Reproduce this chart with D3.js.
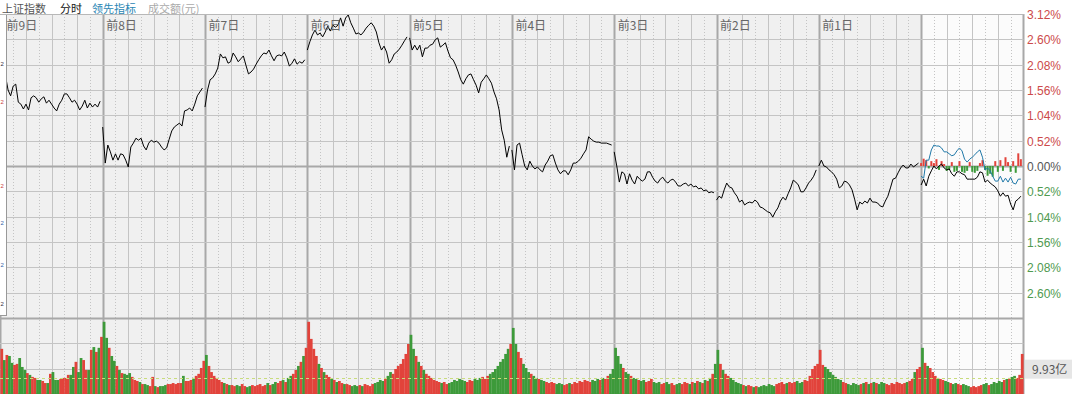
<!DOCTYPE html>
<html>
<head>
<meta charset="utf-8">
<title>上证指数 分时</title>
<script src="https://d3js.org/d3.v7.min.js"></script>
<style>
  body { margin: 0; background: #fff; overflow: hidden; }
  svg { display: block; font-family: "Liberation Sans", Arial, sans-serif; }
  .cjk { font-family: "Noto Sans CJK SC", sans-serif; }
</style>
</head>
<body>
<div id="chart"></div>
<script>
// day labels, oldest first; the last day is today (no label)
var dayLabels = ["前9日", "前8日", "前7日", "前6日", "前5日", "前4日", "前3日", "前2日", "前1日", ""];

// price change in %, 40 samples per day
var price_d9 = [1.81,1.77,1.85,1.56,1.44,1.64,1.68,1.31,1.27,1.17,1.27,1.15,1.40,1.44,1.40,1.31,1.38,1.42,1.29,1.35,1.27,1.19,1.13,1.27,1.35,1.48,1.48,1.40,1.31,1.35,1.27,1.15,1.23,1.35,1.19,1.29,1.21,1.27,1.21,1.33];
var price_d8 = [0.80,0.06,0.43,0.29,0.12,0.25,0.12,0.25,0.23,0.12,-0.02,0.39,0.47,0.57,0.53,0.57,0.41,0.33,0.47,0.53,0.49,0.51,0.47,0.39,0.33,0.37,0.55,0.72,0.80,0.84,0.88,0.82,1.13,1.15,1.19,1.13,1.27,1.44,1.52,1.60];
var price_d7 = [1.21,1.56,1.77,1.81,1.89,2.01,2.30,2.22,2.24,2.11,2.14,2.32,2.24,2.14,2.20,2.26,2.07,1.89,1.93,1.99,2.09,2.18,2.26,2.32,2.30,2.38,2.26,2.16,2.26,2.28,2.26,2.34,2.22,2.05,2.11,2.20,2.09,2.14,2.11,2.18];
var price_d6 = [2.38,2.55,2.69,2.79,2.69,2.73,2.65,2.75,2.87,2.77,2.89,2.85,2.89,3.04,2.87,3.04,3.10,2.94,2.83,2.71,2.73,2.69,2.75,2.83,2.89,2.94,2.87,2.75,2.53,2.38,2.46,2.34,2.11,2.18,2.30,2.34,2.40,2.48,2.57,2.65];
var price_d5 = [2.63,2.38,2.48,2.38,2.48,2.24,2.42,2.42,2.48,2.50,2.59,2.63,2.44,2.48,2.53,2.36,2.22,2.18,2.07,1.93,1.77,1.68,1.79,1.87,1.89,1.77,1.66,1.50,1.72,1.79,1.87,1.79,1.70,1.52,1.38,1.15,0.74,0.53,0.18,0.41];
var price_d4 = [0.33,-0.08,0.43,0.47,0.23,0.00,-0.08,0.10,0.00,-0.06,-0.02,-0.08,-0.12,0.02,0.10,0.21,0.23,0.06,-0.08,-0.16,-0.10,-0.10,-0.18,-0.08,0.06,0.06,0.10,0.16,0.25,0.33,0.60,0.55,0.51,0.49,0.49,0.47,0.47,0.47,0.45,0.43];
var price_d3 = [0.29,0.00,-0.33,-0.12,-0.16,-0.37,-0.16,-0.29,-0.37,-0.21,-0.27,-0.31,-0.27,-0.12,-0.12,-0.23,-0.31,-0.35,-0.27,-0.23,-0.31,-0.35,-0.29,-0.27,-0.33,-0.41,-0.41,-0.37,-0.35,-0.41,-0.37,-0.43,-0.41,-0.47,-0.45,-0.51,-0.49,-0.55,-0.53,-0.55];
var price_d2 = [-0.70,-0.62,-0.66,-0.49,-0.35,-0.43,-0.45,-0.55,-0.62,-0.74,-0.70,-0.80,-0.76,-0.74,-0.76,-0.70,-0.74,-0.84,-0.86,-0.90,-0.94,-0.96,-1.05,-0.94,-0.86,-0.72,-0.64,-0.70,-0.57,-0.45,-0.29,-0.33,-0.39,-0.53,-0.53,-0.45,-0.35,-0.29,-0.21,-0.08];
var price_d1 = [0.00,0.12,0.00,-0.02,-0.08,-0.12,-0.18,-0.27,-0.45,-0.41,-0.31,-0.33,-0.39,-0.49,-0.68,-0.90,-0.74,-0.78,-0.72,-0.76,-0.66,-0.74,-0.74,-0.76,-0.82,-0.84,-0.72,-0.62,-0.45,-0.27,-0.25,-0.14,-0.04,0.02,-0.04,-0.04,0.04,-0.02,0.02,0.06];
var price_today = [-0.39,-0.27,-0.41,-0.21,-0.10,0.00,-0.06,0.00,0.04,-0.04,-0.08,-0.06,-0.16,-0.21,-0.12,-0.12,-0.16,-0.18,-0.27,-0.27,-0.27,-0.27,-0.23,-0.12,-0.14,-0.33,-0.29,-0.35,-0.39,-0.43,-0.51,-0.62,-0.55,-0.62,-0.60,-0.78,-0.90,-0.72,-0.68,-0.62];

// today's leading indicator (blue) and buy/sell force bars
var lead_today = [-0.21,-0.25,0.12,0.12,0.33,0.43,0.41,0.41,0.37,0.29,0.29,0.25,0.21,0.23,0.31,0.37,0.31,0.14,0.08,0.14,0.18,0.23,0.29,0.33,0.18,-0.08,-0.04,-0.10,-0.21,-0.31,-0.31,-0.21,-0.33,-0.25,-0.33,-0.23,-0.35,-0.37,-0.27,-0.27];
var force_today = [0.06,0.15,0.12,-0.05,0.10,0.06,0.14,-0.08,0.10,0.04,-0.10,-0.08,0.08,-0.12,-0.10,0.10,-0.12,-0.14,-0.10,0.08,-0.12,-0.14,-0.10,0.06,0.12,-0.08,-0.20,-0.16,-0.22,0.10,-0.12,0.12,-0.10,0.18,0.08,-0.12,0.10,-0.14,0.26,0.14];

// turnover in 亿元, 40 bars per day
var vol_d9 = [17.7,13.3,15.3,14.9,12.2,11.4,11.8,14.1,10.6,9.4,8.2,7.5,6.7,6.3,5.5,5.5,5.1,4.3,4.3,7.9,8.6,5.5,5.5,5.9,6.3,6.3,7.5,7.5,10.6,12.6,8.6,14.1,13.3,9.4,9.4,17.3,18.4,16.5,18.1,22.4];
var vol_d8 = [28.3,22.0,18.1,14.9,13.0,11.0,9.4,8.2,7.9,7.5,8.2,6.7,5.5,5.1,4.7,3.9,3.9,3.5,3.1,6.7,3.1,2.7,3.1,3.1,3.5,3.9,3.9,4.3,3.9,4.3,4.3,7.1,5.1,5.1,5.5,6.3,7.1,7.9,10.2,13.0];
var vol_d7 = [15.3,11.0,8.6,7.1,6.3,5.5,4.7,4.3,3.9,3.5,3.5,3.1,3.5,3.1,3.9,3.1,2.7,3.1,3.5,3.1,3.5,3.9,3.1,3.5,4.3,3.5,3.9,4.7,4.3,5.1,5.5,4.7,6.3,7.1,7.9,9.4,11.0,12.6,14.9,18.1];
var vol_d6 = [28.3,21.6,17.7,14.9,11.8,10.2,8.6,7.5,6.7,5.9,5.5,4.7,5.1,4.3,3.9,3.9,3.5,3.1,3.5,3.1,3.5,3.1,3.9,3.5,3.1,3.9,4.3,4.7,5.5,5.1,6.3,7.1,8.6,7.9,9.8,11.0,11.8,13.7,15.7,19.6];
var vol_d5 = [23.2,17.7,14.9,12.6,11.0,9.4,7.9,7.1,6.3,5.5,5.1,4.7,4.3,4.7,3.9,4.3,4.7,5.5,5.1,5.9,5.5,5.1,4.7,5.5,5.1,5.9,5.5,6.3,6.7,5.9,7.1,7.9,8.6,9.8,11.0,12.6,13.7,15.7,17.7,19.6];
var vol_d4 = [25.9,19.6,16.5,14.1,11.8,10.2,8.6,7.9,7.1,6.3,5.9,5.5,5.1,4.7,4.3,4.7,4.3,3.9,4.3,3.9,3.5,3.9,4.3,3.9,4.7,4.3,5.1,4.7,5.5,5.1,4.7,5.5,5.1,5.9,5.5,6.3,5.9,7.1,7.9,9.8];
var vol_d3 = [18.1,14.9,11.8,10.2,8.6,7.9,7.1,6.3,5.9,5.5,5.1,5.5,4.7,5.1,5.9,4.7,4.3,4.7,3.9,4.3,4.7,3.9,4.3,3.5,3.9,4.3,3.9,4.7,4.3,3.9,4.7,4.3,5.1,4.7,4.3,5.5,5.1,6.3,7.9,11.8];
var vol_d2 = [17.3,11.8,9.4,7.9,7.1,6.3,5.5,4.7,4.3,3.9,3.5,3.1,3.5,3.1,2.7,3.1,2.7,3.1,3.5,3.1,3.9,3.5,3.1,3.9,4.3,4.7,3.9,4.3,4.7,4.3,4.7,5.1,4.3,4.7,5.5,5.1,7.1,9.8,11.0,11.8];
var vol_d1 = [17.3,11.4,10.6,9.8,8.6,7.5,6.7,5.9,5.5,4.7,4.3,3.9,3.5,4.3,3.9,3.5,3.9,4.3,4.7,3.9,4.3,4.7,4.3,3.9,4.7,4.3,3.9,3.5,4.3,3.9,4.7,4.3,3.9,4.3,4.7,5.1,5.9,8.6,9.8,10.6];
var vol_today = [18.1,12.2,11.0,10.2,8.6,7.1,6.3,5.9,5.5,5.1,4.7,4.3,3.9,4.3,3.9,3.5,3.9,3.5,3.1,2.7,3.1,2.7,3.1,3.5,3.9,4.3,3.5,3.9,4.7,4.3,5.1,4.7,5.5,5.9,6.3,6.7,7.1,6.3,7.5,15.7];

var volAverage = 6.3;
var volUnit = 9.93;   // value of one volume grid row, 亿
var pctTicks = [3.12, 2.60, 2.08, 1.56, 1.04, 0.52, 0.00, -0.52, -1.04, -1.56, -2.08, -2.60];

var prices = [price_d9, price_d8, price_d7, price_d6, price_d5, price_d4, price_d3, price_d2, price_d1, price_today];
var volumes = [vol_d9, vol_d8, vol_d7, vol_d6, vol_d5, vol_d4, vol_d3, vol_d2, vol_d1, vol_today];
var perDay = 40;
var nDays = prices.length;

var W = 1072, H = 395;
var plotL = 0.4, plotR = 1023.4, plotT = 14, plotM = 318, plotB = 394;

var x = d3.scaleLinear().domain([0, nDays * perDay]).range([plotL, plotR]);
var y = d3.scaleLinear().domain([-3.12, 3.12]).range([plotM, plotT]);
var yv = d3.scaleLinear().domain([0, volUnit * 3]).range([plotB, plotM]);

var svg = d3.select("#chart").append("svg")
  .attr("width", W)
  .attr("height", H);

// panel backgrounds: history grey, today white
var todayX = x((nDays - 1) * perDay);
svg.append("rect").attr("x", 0).attr("y", plotT).attr("width", todayX).attr("height", plotB - plotT).attr("fill", "#f0f0f0");
svg.append("rect").attr("x", todayX).attr("y", plotT).attr("width", plotR - todayX).attr("height", plotB - plotT).attr("fill", "#fbfbfb");

// vertical grid: day boundaries, half-hour solid, quarter dotted
var grid = svg.append("g");
d3.range(0, nDays * 8 + 1).forEach(function(k) {
  var xx = Math.round(x(k * perDay / 8)) + 0.5;
  var ln = grid.append("line")
    .attr("x1", xx).attr("x2", xx)
    .attr("y1", plotT).attr("y2", plotB);
  if (k % 8 == 0) {
    ln.attr("stroke", "#a8a8a8").attr("stroke-width", 2);
  } else if (k % 2 == 0) {
    ln.attr("stroke", "#c4c4c4").attr("stroke-width", 1);
  } else {
    ln.attr("stroke", "#c4c4c4").attr("stroke-width", 1).attr("stroke-dasharray", "1,2");
  }
});

// horizontal grid
var hLines = pctTicks.map(function(v) { return y(v); }).concat([y(-3.12), yv(volUnit), yv(volUnit * 2)]);
hLines.forEach(function(yy) {
  var r = Math.round(yy) + 0.5;
  var heavy = Math.abs(yy - y(0)) < 1 || Math.abs(yy - plotM) < 1;
  grid.append("line")
    .attr("x1", 0).attr("x2", plotR)
    .attr("y1", r).attr("y2", r)
    .attr("stroke", heavy ? "#a8a8a8" : "#c4c4c4")
    .attr("stroke-width", heavy ? 2 : 1);
});
grid.append("line")
  .attr("x1", 0).attr("x2", plotR)
  .attr("y1", plotB - 0.5).attr("y2", plotB - 0.5)
  .attr("stroke", "#a8a8a8");

// volume bars, coloured by the price move of the same sample
var bw = x(1) - x(0);
var vg = svg.append("g");
volumes.forEach(function(vols, d) {
  vols.forEach(function(v, i) {
    var p = prices[d];
    var prev = i > 0 ? p[i - 1] : (d > 0 ? prices[d - 1][perDay - 1] : p[0]);
    var up = p[i] >= prev;
    vg.append("rect")
      .attr("x", x(d * perDay + i))
      .attr("y", yv(v))
      .attr("width", bw + 0.2)
      .attr("height", plotB - yv(v))
      .attr("fill", up ? "#e2433b" : "#3d9a3a");
  });
});

// average volume dashed line
var avgY = Math.round(yv(volAverage)) + 0.5;
svg.append("line")
  .attr("x1", 0).attr("x2", plotR)
  .attr("y1", avgY).attr("y2", avgY)
  .attr("stroke", "#c8dc7c")
  .attr("stroke-dasharray", "3,3");

// today's buy/sell force bars
var t0 = (nDays - 1) * perDay;
svg.append("g").selectAll("rect")
  .data(force_today)
  .enter().append("rect")
  .attr("x", function(d, i) { return x(t0 + i) - 1; })
  .attr("width", 2)
  .attr("y", function(d) { return d > 0 ? y(d) : y(0); })
  .attr("height", function(d) { return Math.abs(y(d) - y(0)); })
  .attr("fill", function(d) { return d > 0 ? "#e2433b" : "#3d9a3a"; });

// leading indicator (blue)
svg.append("path")
  .datum(lead_today)
  .attr("fill", "none")
  .attr("stroke", "#1f78a8")
  .attr("stroke-width", 1)
  .attr("d", d3.line()
    .x(function(d, i) { return x(t0 + i); })
    .y(function(d) { return y(d); }));

// index line, one path per day
prices.forEach(function(p, d) {
  svg.append("path")
    .datum(p)
    .attr("fill", "none")
    .attr("stroke", "#000")
    .attr("stroke-width", 1)
    .attr("d", d3.line()
      .x(function(v, i) { return x(d * perDay + i); })
      .y(function(v) { return y(v); }));
});

// left axis panel (mostly hidden)
svg.append("rect").attr("x", 0).attr("y", plotT).attr("width", 6).attr("height", plotM - plotT - 2).attr("fill", "#fff");
svg.append("line").attr("x1", 6.5).attr("x2", 6.5).attr("y1", plotT).attr("y2", plotM - 2).attr("stroke", "#999");
svg.append("line").attr("x1", 0).attr("x2", 6.5).attr("y1", plotM - 2.5).attr("y2", plotM - 2.5).attr("stroke", "#999");
var leftBits = [[63, "#334"], [101, "#c44"], [185, "#c44"], [222, "#36a"], [264, "#36a"], [303, "#334"]];
svg.append("g").selectAll("text")
  .data(leftBits)
  .enter().append("text")
  .attr("x", 0.5)
  .attr("y", function(d) { return d[0] + 2.5; })
  .attr("font-size", 6)
  .attr("fill", function(d) { return d[1]; })
  .text("2");

// white out anything above the chart
svg.append("rect").attr("x", 0).attr("y", 0).attr("width", W).attr("height", plotT - 0.5).attr("fill", "#fff");
svg.append("line").attr("x1", 0).attr("x2", plotR).attr("y1", plotT + 0.5).attr("y2", plotT + 0.5).attr("stroke", "#b8b8b8");

// header
var header = [["上证指数", 2, "#555"], ["分时", 60, "#111"], ["领先指标", 92, "#2a86b4"], ["成交额(元)", 148, "#aaa"]];
svg.append("g").selectAll("text")
  .data(header)
  .enter().append("text")
  .attr("class", "cjk")
  .attr("x", function(d) { return d[1]; })
  .attr("y", 12.8)
  .attr("font-size", 11)
  .attr("fill", function(d) { return d[2]; })
  .text(function(d) { return d[0]; });

// day labels
svg.append("g").selectAll("text")
  .data(dayLabels)
  .enter().append("text")
  .attr("class", "cjk")
  .attr("x", function(d, i) { return i == 0 ? 6.5 : x(i * perDay) + 3.5; })
  .attr("y", 30)
  .attr("font-size", 12)
  .attr("fill", "#666")
  .text(function(d) { return d; });

// right axis labels
svg.append("g").selectAll("text")
  .data(pctTicks)
  .enter().append("text")
  .attr("x", 1027)
  .attr("y", function(d) { return y(d) + 5; })
  .attr("font-size", 12)
  .attr("fill", function(d) { return d > 0 ? "#cc4a4a" : (d < 0 ? "#4f9a4f" : "#555"); })
  .text(function(d) { return Math.abs(d).toFixed(2) + "%"; });

// volume label
svg.append("rect").attr("x", 1025).attr("y", yv(volUnit) - 9).attr("width", 47).attr("height", 19).attr("fill", "#e6e6e6");
svg.append("text")
  .attr("class", "cjk")
  .attr("x", 1032)
  .attr("y", yv(volUnit) + 5)
  .attr("font-size", 12)
  .attr("fill", "#555")
  .text(volUnit.toFixed(2) + "亿");
</script>
</body>
</html>
